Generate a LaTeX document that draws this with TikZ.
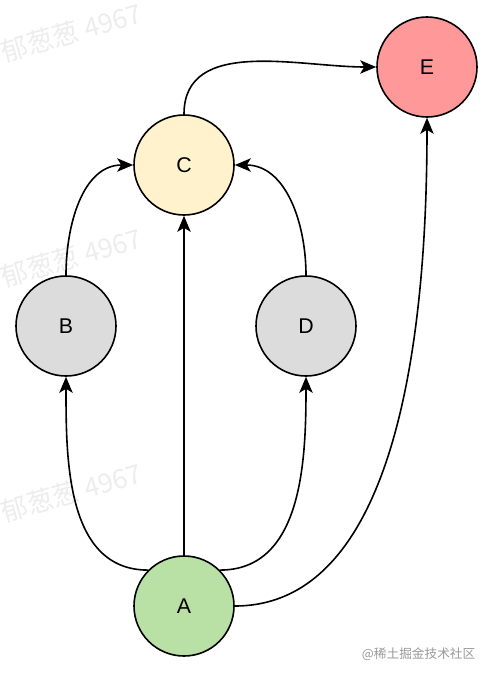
\documentclass[tikz,border=0pt]{standalone}
\usepackage{fontspec}
\setmainfont{Liberation Sans}
\newfontfamily\cjkfont{Noto Sans CJK SC}
\usetikzlibrary{arrows.meta}

\definecolor{fillA}{HTML}{B9E0A5}
\definecolor{fillC}{HTML}{FFF2CC}
\definecolor{fillE}{HTML}{FF9999}
\definecolor{fillBD}{HTML}{DCDCDC}

\tikzset{
    vertex/.style={circle, draw=black, line width=1.2pt, minimum size=75pt,
        inner sep=0pt, font=\fontsize{16}{19}\selectfont},
    edge/.style={line width=1.2pt, -{Stealth[length=12pt, width=10pt, inset=3pt]}},
    mark watermark/.style={text=black!7, rotate=16, anchor=south west,
        font=\cjkfont\fontsize{20}{23}\selectfont},
}

\begin{document}
\begin{tikzpicture}[x=0.75pt, y=-0.75pt]
    \useasboundingbox (0,0) rectangle (494,674);

    % watermarks
    \foreach \wy in {70, 295, 530} {
        \node[mark watermark] at (2, \wy) {郁葱葱 4967};
    }
    \node[text=black!40, font=\cjkfont\fontsize{9.5}{11}\selectfont, anchor=east]
        (credit) at (480, 654) {@稀土掘金技术社区};

    % vertices
    \node[vertex, fill=fillE] (E) at (427, 67) {E};
    \node[vertex, fill=fillC] (C) at (184, 165) {C};
    \node[vertex, fill=fillBD] (B) at (66, 326) {B};
    \node[vertex, fill=fillBD] (D) at (306, 326) {D};
    \node[vertex, fill=fillA] (A) at (184, 606) {A};

    % edges
    \draw[edge] (A.north) -- (C.south);
    \draw[edge] (A.135) to[out=180, in=-90] (B.south);
    \draw[edge] (A.45) to[out=0, in=-90] (D.south);
    \draw[edge] (A.east) to[out=0, in=-90, looseness=0.85] (E.south);
    \draw[edge] (B.north) to[out=90, in=180] (C.west);
    \draw[edge] (D.north) to[out=90, in=0] (C.east);
    \draw[edge] (C.north) to[out=90, in=180] (E.west);
\end{tikzpicture}
\end{document}
